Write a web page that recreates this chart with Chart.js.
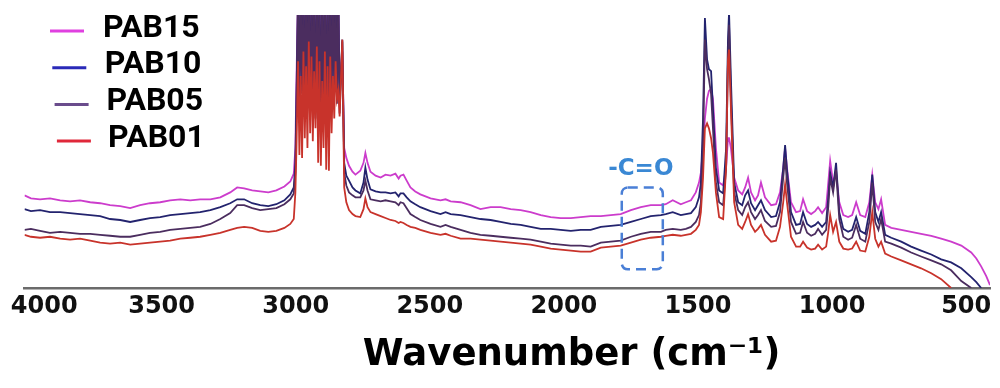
<!DOCTYPE html>
<html><head><meta charset="utf-8">
<script src="https://cdn.jsdelivr.net/npm/chart.js@4.4.0/dist/chart.umd.min.js"></script>
<style>html,body{margin:0;padding:0;background:#fff;}canvas{display:block;}</style>
</head><body>
<canvas id="c" width="1000" height="388"></canvas>
<script>
const wavenumbers = [4000,3976,3942,3905,3867,3830,3793,3755,3718,3681,
 3643,3606,3569,3532,3494,3457,3419,3382,3345,3307,
 3270,3233,3207,3181,3151,3121,3091,3061,3031,3009,
 2996,2990,2986,2980,2975,2970,2965,2960,2955,2950,
 2945,2940,2935,2930,2925,2920,2915,2910,2905,2900,
 2895,2890,2885,2880,2875,2870,2865,2860,2855,2850,
 2845,2840,2835,2830,2825,2815,2808,2800,2790,2777,
 2766,2748,2736,2729,2721,2710,2691,2672,2654,2635,
 2617,2605,2598,2587,2575,2561,2543,2524,2486,2449,
 2430,2411,2374,2337,2300,2262,2225,2187,2150,2113,
 2075,2038,2001,1963,1926,1889,1851,1814,1777,1739,
 1702,1665,1627,1609,1583,1553,1534,1515,1497,1485,
 1478,1470,1463,1455,1448,1440,1433,1422,1410,1395,
 1384,1377,1373,1366,1354,1339,1324,1313,1302,1291,
 1276,1265,1254,1239,1216,1198,1183,1171,1164,1157,
 1142,1123,1108,1097,1082,1067,1052,1041,1026,1011,
 1003,996,985,974,962,947,929,914,899,884,
 865,850,839,828,816,806,791,768,731,694,
 657,619,582,545,507,470,451,433,414,400];

const pab15 = [94,91,90,91,89,88,89,87,86,84,
 83,81,84,86,87,89,90,89,90,90,
 92,97,102,101,99,98,97,99,103,108,
 116,142,212,300,202,300,217,300,207,300,
 222,300,197,300,212,300,192,300,207,300,
 182,300,202,300,187,300,197,300,212,300,
 222,300,207,300,197,240,142,132,124,118,
 115,119,127,137,127,118,114,112,115,114,
 116,111,114,115,109,102,98,95,91,89,
 90,88,87,84,80,82,82,80,79,77,
 74,72,71,71,72,73,73,74,75,79,
 82,84,84,85,89,85,87,89,97,107,
 117,142,172,192,200,202,192,142,107,104,
 122,152,152,142,112,99,95,102,112,97,
 89,94,107,92,84,85,97,122,142,122,
 87,77,78,90,78,75,78,82,76,82,
 107,129,107,117,87,74,72,74,87,74,
 72,87,115,87,80,90,64,61,59,57,
 55,53,50,47,43,36,30,22,12,3];

const pab10 = [80,78,79,77,77,76,75,74,73,70,
 69,67,69,71,72,74,75,76,77,79,
 82,86,90,90,86,84,83,85,89,95,
 102,127,192,300,192,300,207,300,197,300,
 212,300,187,300,202,300,182,300,197,300,
 172,300,192,300,177,300,187,300,202,300,
 212,300,197,300,187,252,127,114,109,102,
 99,96,107,122,110,100,98,97,97,96,
 97,93,96,96,92,88,85,82,78,75,
 77,75,74,72,70,69,67,65,64,62,
 60,60,59,58,59,59,62,63,64,67,
 70,73,74,75,77,74,75,76,82,92,
 107,172,274,232,222,220,182,122,99,96,
 142,252,280,212,107,87,84,94,99,86,
 79,84,89,79,72,73,87,122,145,120,
 77,64,65,77,65,62,64,67,62,67,
 92,117,102,127,77,60,57,59,72,58,
 55,77,115,77,67,77,54,51,47,42,
 38,34,29,26,20,11,6,0,null,null];

const pab05 = [59,60,58,56,57,56,55,55,54,53,
 52,52,54,56,57,59,60,61,62,65,
 70,76,84,84,81,79,80,81,85,90,
 96,117,177,300,182,300,197,300,187,300,
 202,300,177,300,192,300,172,300,187,300,
 162,300,182,300,167,300,177,300,192,300,
 202,300,187,300,177,250,117,104,97,94,
 92,92,99,109,99,90,89,88,89,88,
 87,84,87,86,81,75,72,69,65,62,
 64,62,59,56,54,53,52,51,50,49,
 47,45,44,43,43,42,46,47,48,52,
 55,57,57,59,60,59,60,62,67,74,
 87,142,252,222,212,197,162,107,87,84,
 122,232,267,192,97,79,74,82,87,77,
 70,74,79,68,62,63,77,112,132,107,
 67,55,56,67,56,53,55,60,54,59,
 82,112,97,120,70,52,49,51,64,50,
 47,67,107,67,59,70,47,45,41,36,
 32,28,24,18,7,0,null,null,null,null];

const pab01 = [54,52,51,52,50,49,50,48,46,45,
 46,44,45,46,47,48,50,51,52,54,
 56,59,61,62,61,58,57,58,61,65,
 70,97,142,230,135,215,132,240,152,225,
 142,250,157,235,149,220,162,245,127,230,
 124,210,142,240,120,225,119,235,157,215,
 172,230,192,200,174,252,102,87,79,75,
 73,72,80,91,82,77,75,73,71,69,
 68,66,67,66,64,62,61,59,56,54,
 55,53,50,50,49,48,47,46,45,44,
 42,40,39,38,37,37,41,42,43,46,
 49,51,52,53,54,53,54,55,59,64,
 77,112,162,167,162,152,137,97,72,70,
 122,232,242,182,87,64,60,67,75,64,
 57,60,64,54,47,48,62,87,105,87,
 52,42,42,47,41,39,40,44,39,42,
 57,74,57,67,47,40,39,40,47,38,
 37,52,77,50,42,47,35,32,28,24,
 20,15,9,0,null,null,null,null,null,null];

const seriesNames = ['PAB15', 'PAB10', 'PAB05', 'PAB01'];
const xTickValues = [4000, 3500, 3000, 2500, 2000, 1500, 1000, 500];
const axisTitle = 'Wavenumber (cm\u207B\u00B9)';
const annotationLabel = '-C=O';

const lineColors = ['#cc3ccc', '#23236e', '#4b2d5f', '#c8332b'];
const legendColors = ['#e040e0', '#2a2ab8', '#6a4c8c', '#e0283a'];
const drawOrder = [3, 2, 1, 0];
const seriesValues = [pab15, pab10, pab05, pab01];

const datasets = seriesNames.map((name, k) => ({
  label: name,
  data: wavenumbers.map((w, i) => ({x: w, y: seriesValues[k][i]})),
  borderColor: lineColors[k],
  backgroundColor: lineColors[k],
  borderWidth: 1.8,
  pointRadius: 0,
  tension: 0,
  fill: false,
  spanGaps: false,
  order: drawOrder[k]
}));

const refLegend = {
  id: 'refLegend',
  afterDraw(chart) {
    const ctx = chart.ctx;
    ctx.save();
    chart.data.datasets.forEach((ds, i) => {
      const y = 31 + i * 36.7;
      const x0 = 50 + i * 2.3;
      ctx.strokeStyle = legendColors[i];
      ctx.lineWidth = 3;
      ctx.beginPath(); ctx.moveTo(x0, y); ctx.lineTo(x0 + 34, y); ctx.stroke();
      ctx.fillStyle = '#000';
      ctx.font = 'bold 32px Roboto';
      ctx.textAlign = 'left';
      ctx.textBaseline = 'middle';
      ctx.fillText(ds.label, 103 + i * 1.7, y - 2.5);
    });
    ctx.restore();
  }
};

const carbonylMark = {
  id: 'carbonylMark',
  afterDatasetsDraw(chart) {
    const {ctx, scales: {x, y}} = chart;
    const l = x.getPixelForValue(1773), r = x.getPixelForValue(1620);
    const t = y.getPixelForValue(102), b = y.getPixelForValue(19);
    ctx.save();
    ctx.strokeStyle = '#4a7fd6';
    ctx.lineWidth = 2.5;
    ctx.setLineDash([10, 6]);
    ctx.beginPath();
    ctx.roundRect(Math.min(l, r), t, Math.abs(r - l), b - t, 6);
    ctx.stroke();
    ctx.setLineDash([]);
    ctx.fillStyle = '#3a88d4';
    ctx.font = 'bold 23px "DejaVu Sans"';
    ctx.textAlign = 'center';
    ctx.textBaseline = 'middle';
    ctx.fillText(annotationLabel, x.getPixelForValue(1702), y.getPixelForValue(121));
    ctx.restore();
  }
};

new Chart(document.getElementById('c'), {
  type: 'line',
  data: {datasets},
  plugins: [carbonylMark, refLegend],
  options: {
    responsive: false,
    animation: false,
    devicePixelRatio: 1,
    layout: {padding: {left: 24.5, right: 10, top: 15, bottom: 0}},
    plugins: {legend: {display: false}, tooltip: {enabled: false}},
    scales: {
      x: {
        type: 'linear', reverse: true, min: 400, max: 4000,
        afterBuildTicks: s => { s.ticks = xTickValues.map(v => ({value: v})); },
        afterFit: s => { s.paddingLeft = 0; s.paddingRight = 0; },
        grid: {display: false, drawTicks: false},
        border: {display: true, color: '#6b6b6b', width: 2.5},
        ticks: {
          color: '#111', autoSkip: false, maxRotation: 0, padding: 4, labelOffset: 3,
          font: {family: 'DejaVu Sans', weight: 'bold', size: 24},
          callback: v => (v === 4000 ? '    ' + v : String(v))
        },
        title: {
          display: true, text: '          ' + axisTitle, color: '#000',
          font: {family: 'DejaVu Sans', weight: 'bold', size: 37},
          padding: {top: 8, bottom: 10.8}
        }
      },
      y: {display: false, min: 0, max: 277}
    }
  }
});
</script>
</body></html>
